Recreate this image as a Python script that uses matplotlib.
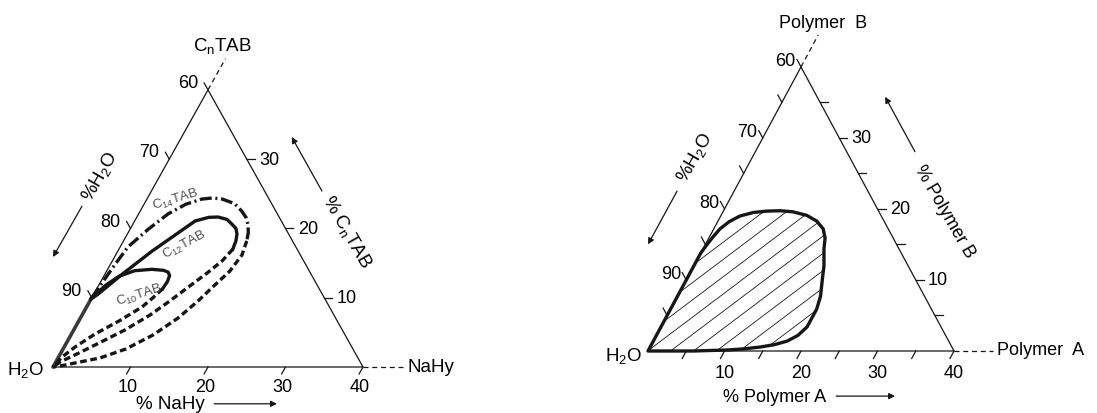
import numpy as np
import matplotlib.pyplot as plt
from matplotlib.patches import Polygon

plt.rcParams['font.family'] = ['Liberation Sans', 'DejaVu Sans']
plt.rcParams['mathtext.fontset'] = 'custom'
plt.rcParams['mathtext.rm'] = 'Liberation Sans'
plt.rcParams['mathtext.it'] = 'Liberation Sans:italic'

W, H = 1097, 414
S3 = np.sqrt(3) / 2

# --- left diagram: H2O / NaHy / CnTAB (wt %), a = NaHy, b = CnTAB ---
c10_solid_a = [0.0, 0.9, 1.97, 3.6, 5.7, 7.3, 8.0, 8.45, 8.6, 8.5]
c10_solid_b = [10.0, 11.8, 13.1, 13.9, 14.1, 13.95, 13.7, 13.2, 12.3, 11.3]
c10_dash_a = [8.5, 7.9, 7.15, 5.2, 3.04, 1.4, 0.44, 0.0]
c10_dash_b = [11.3, 10.0, 8.66, 6.64, 4.76, 2.89, 1.44, 0.0]

c12_solid_a = [0.0, 0.55, 2.3, 4.4, 7.8, 9.3, 10.47, 11.8, 12.8, 13.6, 14.14, 14.5, 14.7]
c12_solid_b = [9.8, 10.5, 13.5, 16.7, 21.07, 21.6, 21.65, 21.3, 20.6, 20.0, 19.2, 18.2, 17.0]
c12_dash_a = [14.7, 14.16, 13.1, 11.8, 10.3, 8.77, 6.6, 4.2, 2.15, 0.54, 0.0]
c12_dash_b = [17.0, 15.3, 13.56, 11.69, 9.52, 7.5, 5.34, 3.46, 1.88, 0.72, 0.0]

c14_upper_a = [0.0, 0.3, 0.6, 1.0, 2.3, 3.8, 5.4, 7.1, 8.4, 9.7, 11.6, 13.1, 14.1,
               14.86, 15.5, 15.9]
c14_upper_b = [10.0, 12.5, 14.8, 17.3, 19.8, 22.1, 23.5, 24.24, 24.4, 24.24, 23.6, 22.5,
               21.6, 20.6, 19.4, 18.2]
c14_dash_a = [15.9, 16.3, 15.9, 14.9, 13.95, 12.6, 10.6, 8.1, 5.4, 2.55, 0.83, 0.0]
c14_dash_b = [18.2, 16.16, 13.85, 11.69, 9.52, 7.07, 4.62, 2.6, 1.3, 0.58, 0.14, 0.0]

left_bottom_ticks = [10, 20, 30, 40]
left_left_ticks = [10, 20, 30, 40]      # CnTAB values on the water side
left_right_ticks = [10, 20, 30]

# --- right diagram: H2O / polymer A / polymer B, a = polymer A, b = polymer B ---
region_a = [0.0, 0.0, 0.2, 0.45, 0.81, 1.5, 2.5, 4.0, 5.7, 7.4, 9.15, 11.2, 12.9, 14.3,
            15.2, 15.8, 17.0, 17.9, 18.7, 19.1, 19.1, 18.5, 17.5, 16.1, 14.4, 12.4,
            10.3, 5.9, 0.0]
region_b = [0.0, 13.8, 14.9, 16.0, 17.2, 18.2, 19.0, 19.5, 19.7, 19.75, 19.6, 19.1, 18.3,
            17.2, 15.9, 14.4, 12.0, 9.7, 7.7, 5.9, 3.4, 2.2, 1.4, 0.9, 0.56, 0.3,
            0.14, 0.0, 0.0]

right_bottom_ticks = [5, 10, 15, 20, 25, 30, 35, 40]
right_left_ticks = [5, 10, 15, 20, 25, 30, 35, 40]
right_right_ticks = [5, 10, 15, 20, 25, 30, 35]

bottom_labels = [10, 20, 30, 40]
left_labels = [10, 20, 30, 40]           # printed as 100 - b
right_labels = [10, 20, 30]

INK = '#161616'
FS_NUM = 13
FS_TXT = 13.5


def cart(a, b):
    a = np.asarray(a, float)
    b = np.asarray(b, float)
    return a + b / 2, b * S3


def make_axes(fig, origin, sx, sy):
    ox, oy = origin
    ax = fig.add_axes([0, 0, 1, 1])
    ax.set_xlim(-ox / sx, (W - ox) / sx)
    ax.set_ylim(-(H - oy) / sy, oy / sy)
    ax.axis('off')
    return ax


def frame(ax, bt, lt, rt, L, loff, boff, roff):
    ax.plot(*cart([0, 40, 0, 0], [0, 0, 40, 0]), color=INK, lw=0.9)
    for a in bt:
        ax.plot(*cart([a, a], [0, -L]), color=INK, lw=0.9)
    for b in lt:
        ax.plot(*cart([0, -L], [b, b + L]), color=INK, lw=0.9)
    for b in rt:
        ax.plot(*cart([40 - b, 40 - b + L], [b, b]), color=INK, lw=0.9)
    for a in bottom_labels:
        x, y = cart(a, 0)
        ax.text(x + boff[0], y + boff[1], str(a), ha='center', va='center', fontsize=FS_NUM)
    for b in left_labels:
        x, y = cart(0, b)
        ax.text(x + loff[0], y + loff[1], str(100 - b), ha='right', va='center',
                fontsize=FS_NUM)
    for b in right_labels:
        x, y = cart(40 - b, b)
        ax.text(x + roff, y, str(b), ha='left', va='center', fontsize=FS_NUM)


def arrow(ax, p0, p1):
    ax.annotate('', xy=p1, xytext=p0,
                arrowprops=dict(arrowstyle='-|>', color=INK, lw=0.9,
                                mutation_scale=9, shrinkA=0, shrinkB=0))


fig = plt.figure(figsize=(W / 100, H / 100), dpi=100)

# ---------------- left diagram ----------------
axl = make_axes(fig, (53, 368), 7.75, 8.0)
frame(axl, left_bottom_ticks, left_left_ticks, left_right_ticks, 1.0,
      (-1.3, 0.9), (-0.4, -2.4), 1.6)

# common solid branch along the water/CnTAB side
axl.plot(*cart([0, 0], [0, 10]), color='#3a3a3a', lw=2.6, solid_capstyle='round')

axl.plot(*cart(c10_solid_a, c10_solid_b), color=INK, lw=2.4)
axl.plot(*cart(c10_dash_a, c10_dash_b), color=INK, lw=2.4, dashes=(2.0, 1.1))
axl.plot(*cart(c12_solid_a, c12_solid_b), color=INK, lw=2.4)
axl.plot(*cart(c12_dash_a, c12_dash_b), color=INK, lw=2.4, dashes=(2.0, 1.1))
axl.plot(*cart(c14_upper_a, c14_upper_b), color=INK, lw=2.4, dashes=(3.6, 1.1, 0.6, 1.1))
axl.plot(*cart(c14_dash_a, c14_dash_b), color=INK, lw=2.4, dashes=(2.0, 1.1))

axl.text(15.8, 21.0, r'C$_{14}$TAB', rotation=17, fontsize=9.5, color='#505050',
         ha='center', va='center')
axl.text(17.0, 15.4, r'C$_{12}$TAB', rotation=28, fontsize=9.5, color='#505050',
         ha='center', va='center')
axl.text(11.1, 9.1, r'C$_{10}$TAB', rotation=18, fontsize=9.5, color='#505050',
         ha='center', va='center')

# component labels
axl.plot(*cart([0, 0], [40, 44.5]), color=INK, lw=0.9, ls=(0, (4, 3)))
axl.text(21.9, 40.2, r'C$_\mathregular{n}$TAB', ha='center', va='center', fontsize=FS_TXT)
axl.plot([40, 45.5], [0, 0], color=INK, lw=0.9, ls=(0, (4, 3)))
axl.text(45.8, 0, 'NaHy', ha='left', va='center', fontsize=FS_TXT)
axl.text(-1.2, -0.2, r'H$_2$O', ha='right', va='center', fontsize=FS_TXT)
axl.text(15.1, -4.6, '% NaHy', ha='center', va='center', fontsize=FS_TXT)
arrow(axl, (20.8, -4.6), (28.9, -4.6))
axl.text(6.06, 23.9, r'%H$_2$O', rotation=60, ha='center', va='center', fontsize=FS_TXT)
arrow(axl, (3.74, 20.1), (0.0, 13.75))
axl.text(37.9, 17.0, r'% C$_\mathregular{n}$TAB', rotation=-60, ha='center', va='center',
         fontsize=FS_TXT)
arrow(axl, (34.7, 22.0), (30.8, 28.75))

# ---------------- right diagram ----------------
axr = make_axes(fig, (648, 352), 7.65, 8.2)
frame(axr, right_bottom_ticks, right_left_ticks, right_right_ticks, 1.05,
      (-0.7, 0.75), (0.0, -2.6), 1.6)

rx, ry = cart(region_a, region_b)
region = Polygon(np.column_stack([rx, ry]), closed=True, fill=False,
                 edgecolor=INK, lw=2.4, joinstyle='round')
axr.add_patch(region)

# diagonal hatching clipped to the two-phase region
slope = np.tan(np.radians(37)) * 7.65 / 8.2
step = (13.8 / np.cos(np.radians(37))) / 8.2
xs = np.array([-5.0, 40.0])
for c in np.arange(-40, 30, step):
    ln, = axr.plot(xs, slope * xs + c, color=INK, lw=0.6)
    ln.set_clip_path(region)

axr.plot(*cart([0, 0], [40, 44.5]), color=INK, lw=0.9, ls=(0, (4, 3)))
axr.text(22.9, 40.1, 'Polymer  B', ha='center', va='center', fontsize=13)
axr.plot([40, 45.1], [0, 0], color=INK, lw=0.9, ls=(0, (4, 3)))
axr.text(45.6, 0.2, 'Polymer  A', ha='left', va='center', fontsize=13)
axr.text(-0.8, -0.5, r'H$_2$O', ha='right', va='center', fontsize=FS_TXT)
axr.text(16.6, -5.5, '% Polymer A', ha='center', va='center', fontsize=13)
arrow(axr, (24.6, -5.5), (32.3, -5.5))
axr.text(6.1, 23.7, r'%H$_2$O', rotation=60, ha='center', va='center', fontsize=FS_TXT)
arrow(axr, (3.8, 19.5), (0.0, 13.0))
axr.text(38.8, 17.1, '% Polymer B', rotation=-60, ha='center', va='center', fontsize=13)
arrow(axr, (34.9, 24.3), (31.0, 31.0))

fig.savefig('out.png', dpi=100, facecolor='white')
